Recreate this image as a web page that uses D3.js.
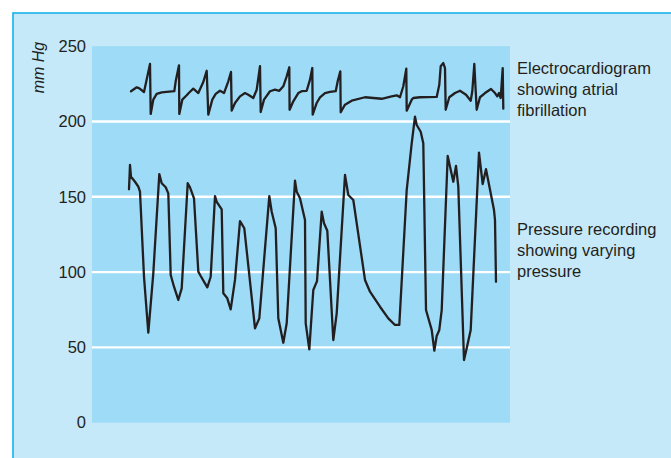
<!DOCTYPE html>
<html>
<head>
<meta charset="utf-8">
<script src="https://cdn.jsdelivr.net/npm/d3@7"></script>
<style>
  html, body { margin: 0; padding: 0; background: #ffffff; }
  svg { display: block; }
  text { font-family: "Liberation Sans", Arial, Helvetica, sans-serif; fill: #231f20; }
</style>
</head>
<body>
<svg id="chart" width="671" height="458"></svg>
<script>
// ---- Data (time in arbitrary units, pressure in mm Hg) ----
const yTicks = [0, 50, 100, 150, 200, 250];
const gridValues = [50, 100, 150, 200];
const yLabel = "mm Hg";
const ecgLabel = ["Electrocardiogram", "showing atrial", "fibrillation"];
const pressureLabel = ["Pressure recording", "showing varying", "pressure"];

const ecgTime = [39, 44.7, 47, 52, 58, 58.7, 61.3, 64.7, 69.7, 82.3, 83.7, 87, 87.3, 90.3, 94.7, 97, 101.3, 106.3, 111.3, 114.7, 116.3, 120.3, 123.7, 128, 132, 136.3, 139, 139.7, 143, 148, 153, 156.3, 161.3, 164.7, 168, 168.7, 172, 178, 183, 187.3, 191.3, 194.7, 197.3, 197.6, 201.3, 206.3, 209.7, 214.7, 218, 220.3, 220.7, 224.7, 228, 233, 238, 243.7, 245.7, 248.3, 248.7, 253, 259.7, 273, 289.7, 299.7, 304.7, 308, 311.3, 314.3, 314.7, 319.7, 321.3, 328, 344.7, 347.3, 348.7, 351.3, 353, 353.7, 357.3, 363, 368, 374, 378.7, 380.3, 382.3, 384.7, 388, 393, 399, 403, 405.3, 407, 408.7, 410.7, 411.3];
const ecgValue = [220.1, 222.7, 222.2, 219.6, 238.2, 205.0, 214.5, 218.3, 219.4, 220.1, 226.7, 237.3, 205.0, 214.5, 217.4, 219.1, 221.8, 218.9, 226.2, 233.7, 204.5, 214.5, 218.3, 220.4, 218.9, 226.7, 232.9, 207.2, 212.3, 216.7, 218.9, 217.8, 215.6, 221.1, 236.7, 206.3, 214.5, 220.1, 221.1, 220.4, 223.4, 230.0, 236.0, 207.8, 213.4, 218.9, 220.1, 220.4, 227.8, 235.5, 204.5, 212.3, 216.0, 218.9, 219.6, 220.1, 226.7, 233.3, 206.1, 211.2, 213.8, 216.1, 215.1, 216.7, 217.4, 216.1, 223.4, 235.1, 207.2, 214.5, 215.6, 216.1, 216.3, 224.4, 236.7, 238.8, 235.5, 207.8, 216.1, 218.9, 220.4, 217.8, 213.8, 220.1, 238.2, 207.8, 216.1, 218.9, 221.6, 218.9, 216.7, 218.9, 215.6, 235.5, 208.5];

const pressureTime = [37, 38, 39, 43, 46.3, 48, 52, 56.3, 61.3, 67.3, 69.7, 73.7, 76.3, 78.7, 82, 86.3, 89.7, 95.7, 98, 102, 106.3, 108.7, 115.3, 118.7, 123, 124.7, 129.7, 131.3, 135.3, 138.7, 143, 148, 152.3, 163, 167.3, 177.3, 179.7, 183.7, 186.3, 191.3, 194.7, 203, 204.7, 208, 213, 213.7, 217.3, 221.3, 225, 229.7, 232, 235.3, 241.3, 244.7, 253, 256.3, 261.3, 273, 278, 288, 296.3, 303, 307.3, 314.7, 319.7, 323, 324.7, 328.7, 331.3, 334, 339.7, 342.3, 344.7, 347.3, 349.7, 355.7, 361.3, 364, 366.3, 372, 374.7, 378.7, 387, 390.7, 394, 402, 403, 404];
const pressureValue = [155.0, 171.1, 163.3, 160.0, 156.7, 153.4, 96.9, 59.8, 99.2, 165.1, 159.0, 156.3, 152.3, 98.1, 90.3, 81.5, 89.2, 159.0, 156.3, 149.0, 100.3, 97.4, 89.9, 96.9, 150.5, 146.7, 141.7, 85.9, 82.6, 75.3, 94.8, 133.9, 129.1, 62.7, 69.3, 150.5, 140.1, 129.1, 69.3, 53.1, 66.0, 160.7, 153.4, 149.0, 134.6, 66.0, 48.7, 88.1, 94.0, 140.1, 132.4, 127.5, 54.9, 72.6, 164.5, 151.2, 147.9, 94.8, 87.0, 77.0, 69.3, 64.9, 64.9, 154.5, 185.5, 203.2, 197.7, 193.2, 185.5, 74.8, 61.6, 47.8, 57.6, 61.6, 74.8, 177.1, 160.0, 170.5, 156.7, 41.6, 49.4, 61.6, 179.3, 158.5, 168.3, 141.2, 134.6, 93.6];

const timeDomain = [0, 418];

// ---- Layout ----
const svg = d3.select("#chart");
const plot = { left: 92, right: 510, top: 46.2, bottom: 422.7 };

const x = d3.scaleLinear().domain(timeDomain).range([plot.left, plot.right]);
const y = d3.scaleLinear().domain([0, 250]).range([plot.bottom, plot.top]);

// outer panel
svg.append("rect")
  .attr("x", 13).attr("y", 13)
  .attr("width", 700).attr("height", 470)
  .attr("fill", "#c6e9f9")
  .attr("stroke", "#16b1ec")
  .attr("stroke-width", 1.6);

// plot area
svg.append("rect")
  .attr("x", x(timeDomain[0])).attr("y", y(250))
  .attr("width", x(timeDomain[1]) - x(timeDomain[0]))
  .attr("height", y(0) - y(250))
  .attr("fill", "#9ddbf7");

// grid lines
svg.append("g").selectAll("line")
  .data(gridValues).join("line")
  .attr("x1", x(timeDomain[0])).attr("x2", x(timeDomain[1]))
  .attr("y1", d => y(d)).attr("y2", d => y(d))
  .attr("stroke", "#ffffff").attr("stroke-width", 2.4);

// y axis labels
const yAxis = d3.axisLeft(y).tickValues(yTicks).tickSize(0).tickPadding(6);
const gAxis = svg.append("g").attr("transform", `translate(${plot.left},0)`).call(yAxis);
gAxis.select(".domain").remove();
gAxis.selectAll("text")
  .style("font-family", '"Liberation Sans", Arial, sans-serif')
  .style("font-size", "16.5px")
  .attr("fill", "#231f20");

// y axis title
svg.append("text")
  .attr("transform", "translate(43.5,67.5) rotate(-90)")
  .attr("text-anchor", "middle")
  .style("font-size", "16px")
  .style("font-style", "italic")
  .text(yLabel);

// lines
const line = d3.line().x(d => x(d[0])).y(d => y(d[1])).curve(d3.curveLinear);
const ecgData = ecgTime.map((t, i) => [t, ecgValue[i]]);
const pressureData = pressureTime.map((t, i) => [t, pressureValue[i]]);

svg.append("path").datum(pressureData)
  .attr("d", line).attr("fill", "none")
  .attr("stroke", "#231f20").attr("stroke-width", 2.3)
  .attr("stroke-linejoin", "round").attr("stroke-linecap", "round");

svg.append("path").datum(ecgData)
  .attr("d", line).attr("fill", "none")
  .attr("stroke", "#231f20").attr("stroke-width", 2.3)
  .attr("stroke-linejoin", "round").attr("stroke-linecap", "round");

// right labels
function addLabel(lines, firstBaseline) {
  const t = svg.append("text").attr("x", 517).style("font-size", "16.5px");
  lines.forEach((s, i) => {
    t.append("tspan").attr("x", 517).attr("y", firstBaseline + i * 21).text(s);
  });
}
addLabel(ecgLabel, 73.8);
addLabel(pressureLabel, 235);
</script>
</body>
</html>
